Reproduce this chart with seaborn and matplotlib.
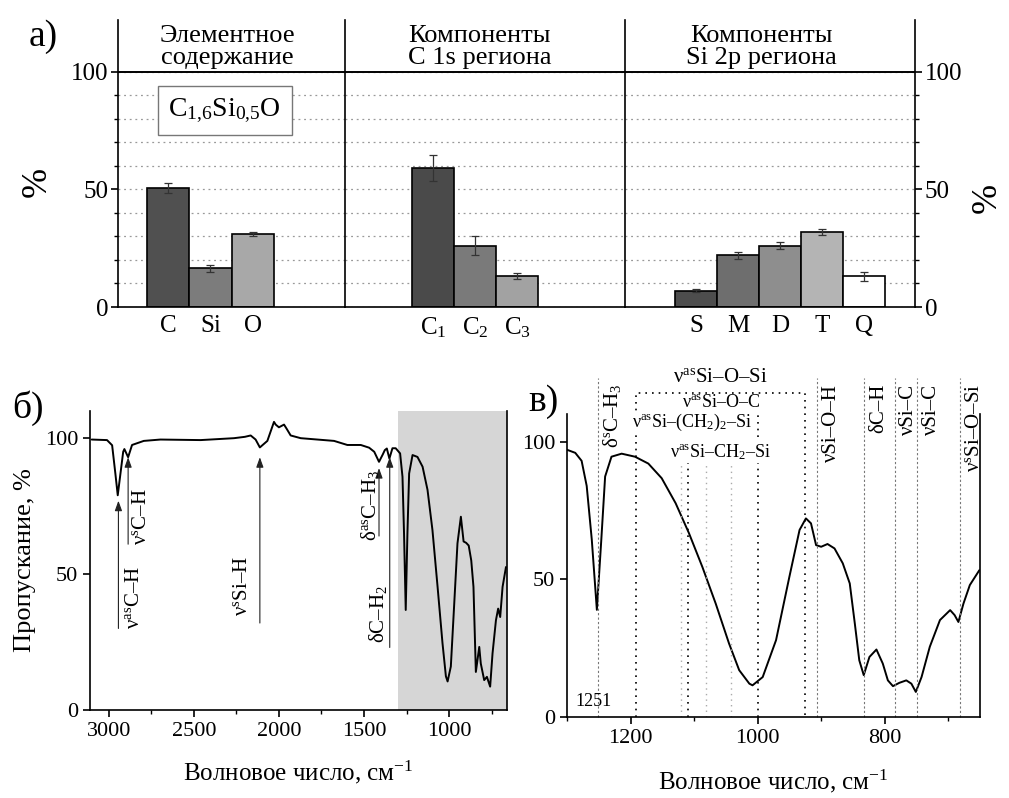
import numpy as np
import matplotlib
matplotlib.use("Agg")
import matplotlib.pyplot as plt
import seaborn as sns
from matplotlib.patches import Rectangle
from matplotlib.ticker import MultipleLocator

# а) XPS: элементный состав и компоненты
elem_labels = ["C", "Si", "O"]
elem_vals = [50.5, 16.5, 31.0]
elem_err = [2.0, 1.5, 1.0]

c1s_labels = ["C$_1$", "C$_2$", "C$_3$"]
c1s_vals = [59.0, 26.0, 13.3]
c1s_err = [5.5, 4.0, 1.3]

si2p_labels = ["S", "M", "D", "T", "Q"]
si2p_vals = [7.0, 22.0, 26.0, 32.0, 13.0]
si2p_err = [0.7, 1.5, 1.5, 1.2, 2.0]

# б) ИК-спектр, полный диапазон
ir_wn = [3100, 3010, 2980, 2961, 2947, 2931, 2915, 2908, 2886, 2863, 2794, 2696,
         2460, 2264, 2200, 2166, 2137, 2112, 2068, 2029, 2019, 2000, 1970, 1955,
         1931, 1872, 1676, 1598, 1519, 1470, 1440, 1412, 1390, 1378, 1366, 1351,
         1333, 1314, 1288, 1274, 1265, 1255, 1245, 1235, 1215, 1186, 1156, 1127,
         1098, 1068, 1039, 1019, 1009, 990, 971, 951, 931, 915, 900, 885, 870,
         857, 843, 823, 814, 794, 778, 759, 745, 725, 712, 700, 686, 666]
ir_t = [99.5, 99.3, 97.4, 87, 79, 87, 95, 96, 93, 97.5, 99, 99.5,
        99.3, 100, 100.5, 101, 99.5, 96.6, 99, 106, 105, 104, 105, 103.5,
        101, 100, 99, 97.5, 97.5, 96.5, 95, 91.3, 94, 95.6, 96.2, 92.5,
        96.3, 96.3, 94.4, 85.8, 65, 36.8, 65, 87, 93.8, 93.1, 89.5, 81,
        66.2, 45.4, 24.6, 12.4, 10.5, 16, 38, 61.3, 71.1, 62, 61.5, 60.5, 55,
        45.3, 14, 23.2, 17.1, 11, 12.2, 8.6, 20.8, 33, 37.3, 34.2, 45.3, 52.6]

# в) область отпечатков пальцев
fp_wn = [1301, 1287, 1277, 1269, 1261, 1253, 1246, 1240, 1230, 1214, 1193, 1172,
         1151, 1129, 1108, 1087, 1066, 1045, 1029, 1013, 1008, 992, 971, 950,
         934, 924, 916, 908, 900, 890, 879, 866, 855, 847, 840, 833, 824, 813,
         803, 795, 787, 777, 766, 758, 751, 742, 729, 713, 697, 690, 684, 676,
         666, 651]
fp_t = [97.1, 95.9, 93, 83.9, 64.4, 38.9, 64.4, 87.3, 94.5, 95.6, 94.5, 92,
        86.7, 77.6, 66.7, 54.5, 41.2, 26.7, 17, 12.1, 11.5, 14.5, 27.9, 50.9,
        67.9, 72.1, 70.3, 62.4, 61.8, 62.8, 61.2, 55.8, 48.5, 33.9, 20.6, 15.2,
        21.8, 24.5, 19.4, 13.3, 11.2, 12.4, 13.3, 12.1, 9.1, 14.5, 25.5, 35.2,
        38.8, 37, 34.5, 41.2, 47.9, 53.3]

# отмеченные полосы (б): положение стрелки, низ, вершина
ir_bands = [2943, 2886, 2112, 1412, 1349]
ir_band_low = [30, 61, 32, 64, 23]
ir_band_top = [77, 93, 93, 89, 93]
ir_band_names = [r"ν$^{\mathrm{as}}$C–H", r"ν$^{\mathrm{s}}$C–H", r"ν$^{\mathrm{s}}$Si–H",
                 r"δ$^{\mathrm{as}}$C–H$_3$", "δC–H$_2$"]

# отмеченные полосы (в)
fp_bands = [1251, 906, 832, 784, 749, 681]
fp_band_names = [r"δ$^{\mathrm{s}}$C–H$_3$", "νSi–O–H", "δC–H", "νSi–C", "νSi–C",
                 r"ν$^{\mathrm{s}}$Si–O–Si"]

sns.set_theme(style="ticks", rc={"axes.edgecolor": "black", "text.color": "black",
                                 "xtick.color": "black", "ytick.color": "black",
                                 "axes.labelcolor": "black", "axes.linewidth": 1.2})
plt.rcParams["font.family"] = ["Liberation Serif", "DejaVu Serif"]
plt.rcParams["mathtext.fontset"] = "custom"
plt.rcParams["mathtext.rm"] = "Liberation Serif"
plt.rcParams["mathtext.it"] = "Liberation Serif:italic"

W, H = 1009, 798
fig = plt.figure(figsize=(W / 100, H / 100), dpi=100)


def add_ax(l, t, r, b):
    return fig.add_axes([l / W, 1 - b / H, (r - l) / W, (b - t) / H])


def bar_panel(ax, labels, vals, err, colors, xlim, title, tx):
    sns.barplot(x=labels, y=vals, hue=labels, palette=colors, width=1.0,
                edgecolor="black", linewidth=1.2, legend=False, errorbar=None, ax=ax)
    ax.errorbar(range(len(vals)), vals, yerr=err, fmt="none", ecolor="#333333",
                elinewidth=0.9, capsize=3, capthick=0.9)
    ax.set_xlim(*xlim)
    ax.set_ylim(0, 122)
    ax.set_yticks([0, 50, 100])
    ax.set_yticks(np.arange(10, 100, 10), minor=True)
    ax.grid(axis="y", which="both", ls=(0, (1.5, 3)), color="#999999", lw=0.9)
    ax.set_axisbelow(True)
    ax.axhline(100, color="black", lw=1.4)
    ax.spines["top"].set_visible(False)
    ax.spines["right"].set_visible(False)
    ax.tick_params(axis="x", length=0, labelsize=18, pad=6)
    ax.set_xlabel("")
    ax.set_ylabel("")
    ax.text(tx, 110.5, title, transform=ax.get_yaxis_transform(), ha="center",
            va="center", fontsize=19, linespacing=1.0)


# ---- а)
ax1 = add_ax(118, 20, 345, 307)
ax2 = add_ax(345, 20, 625, 307)
ax3 = add_ax(625, 20, 915, 307)

bar_panel(ax1, elem_labels, elem_vals, elem_err, ["#505050", "#7c7c7c", "#a8a8a8"],
          (-1.2, 4.2), "Элементное\nсодержание", 0.48)
bar_panel(ax2, c1s_labels, c1s_vals, c1s_err, ["#4a4a4a", "#7a7a7a", "#a2a2a2"],
          (-2.1, 4.57), "Компоненты\nC 1s региона", 0.48)
bar_panel(ax3, si2p_labels, si2p_vals, si2p_err,
          ["#4d4d4d", "#6e6e6e", "#8e8e8e", "#b4b4b4", "#ffffff"],
          (-1.69, 5.21), "Компоненты\nSi 2p региона", 0.47)

ax1.tick_params(axis="y", which="major", length=5, width=1.2, labelsize=18, pad=2)
ax1.tick_params(axis="y", which="minor", length=3, width=1)
ax2.tick_params(axis="y", which="both", length=0, labelleft=False)
ax3.spines["right"].set_visible(True)
ax3.yaxis.tick_right()
ax3.tick_params(axis="y", which="major", length=5, width=1.2, labelsize=18, pad=2,
                left=False, right=True, labelleft=False, labelright=True)
ax3.tick_params(axis="y", which="minor", length=3, width=1, left=False, right=True)

ax1.add_patch(Rectangle((0.176, 0.599), 0.591, 0.171, transform=ax1.transAxes,
                        facecolor="white", edgecolor="#777777", lw=1, zorder=3))
ax1.text(0.47, 0.685, r"C$_{1{,}6}$Si$_{0{,}5}$O", transform=ax1.transAxes,
         ha="center", va="center", fontsize=20, zorder=4)

fig.text(43 / W, 1 - 37 / H, "а)", fontsize=27, ha="center", va="center")
fig.text(37 / W, 1 - 182 / H, "%", fontsize=26, rotation=90, ha="center", va="center")
fig.text(987 / W, 1 - 198 / H, "%", fontsize=26, rotation=90, ha="center", va="center")

# ---- б)
axb = add_ax(90, 411, 507, 710)
axb.axvspan(1300, 660, color="#d6d6d6", lw=0, zorder=0)
sns.lineplot(x=ir_wn, y=ir_t, estimator=None, sort=False, color="black", lw=1.4, ax=axb)
axb.set_xlim(3110, 660)
axb.set_ylim(0, 110)
axb.set_yticks([0, 50, 100])
axb.xaxis.set_major_locator(MultipleLocator(500))
axb.xaxis.set_minor_locator(MultipleLocator(250))
axb.spines["top"].set_visible(False)
axb.tick_params(which="major", length=5, width=1.2, labelsize=16)
axb.tick_params(which="minor", length=3, width=1)
axb.set_ylabel("Пропускание, %", fontsize=19, labelpad=6)
axb.set_xlabel("Волновое число, см$^{-1}$", fontsize=18, labelpad=13)

label_x = [2850, 2808, 2212, 1466, 1415]
label_y = [41.5, 71, 45.7, 75.4, 35.3]
for wn, lo, hi, name, lx, ly in zip(ir_bands, ir_band_low, ir_band_top, ir_band_names,
                                    label_x, label_y):
    axb.annotate("", xy=(wn, hi), xytext=(wn, lo),
                 arrowprops=dict(arrowstyle="-|>,head_length=0.5,head_width=0.18",
                                 color="#222222", lw=0.8, shrinkA=0, shrinkB=0))
    axb.text(lx, ly, name, rotation=90, ha="center", va="center", fontsize=15)

fig.text(28 / W, 1 - 408 / H, "б)", fontsize=27, ha="center", va="center")

# ---- в)
axc = add_ax(567, 414, 980, 717)
sns.lineplot(x=fp_wn, y=fp_t, estimator=None, sort=False, color="black", lw=1.4, ax=axc)
axc.set_xlim(1300, 650)
axc.set_ylim(0, 110)
axc.set_yticks([0, 50, 100])
axc.xaxis.set_major_locator(MultipleLocator(200))
axc.xaxis.set_minor_locator(MultipleLocator(100))
axc.spines["top"].set_visible(False)
axc.tick_params(which="major", length=5, width=1.2, labelsize=16)
axc.tick_params(which="minor", length=3, width=1)
axc.set_xlabel("Волновое число, см$^{-1}$", fontsize=18, labelpad=14)

dash = (0, (2, 2))
dots = (0, (1, 3))
for wn, name in zip(fp_bands, fp_band_names):
    axc.plot([wn, wn], [0, 123], ls=dash, color="#777777", lw=0.8, clip_on=False)
    axc.text(wn - 22, 121, name, rotation=90, ha="center", va="top", fontsize=15)

# групповые полосы Si–O–Si / Si–O–C / Si–(CH2)n–Si
axc.plot([1191, 1191, 926, 926], [0, 117.5, 117.5, 0], ls=dots, color="black", lw=1.2,
         clip_on=False)
axc.plot([1000, 1000], [0, 110.5], ls=dots, color="black", lw=1.2, clip_on=False)
axc.plot([1110, 1110], [0, 93.5], ls=dots, color="black", lw=1.2)
for wn in [1121, 1082, 1042]:
    axc.plot([wn, wn], [0, 95], ls=dots, color="#aaaaaa", lw=1.0)
axc.text(1058, 123.3, r"ν$^{\mathrm{as}}$Si–O–Si", ha="center", va="center", fontsize=15)
axc.text(1058, 114, r"ν$^{\mathrm{as}}$Si–O–C", ha="center", va="center", fontsize=13,
         bbox=dict(fc="white", ec="none", pad=0.3))
axc.text(1103, 107, r"ν$^{\mathrm{as}}$Si–(CH$_2$)$_2$–Si", ha="center", va="center",
         fontsize=13, bbox=dict(fc="white", ec="none", pad=0.3))
axc.text(1058, 96, r"ν$^{\mathrm{as}}$Si–CH$_2$–Si", ha="center", va="center", fontsize=13,
         bbox=dict(fc="white", ec="none", pad=0.3))
axc.text(1258, 5.5, "1251", ha="center", va="center", fontsize=13)

fig.text(543 / W, 1 - 402 / H, "в)", fontsize=27, ha="center", va="center")

fig.savefig("out.png", dpi=100)
